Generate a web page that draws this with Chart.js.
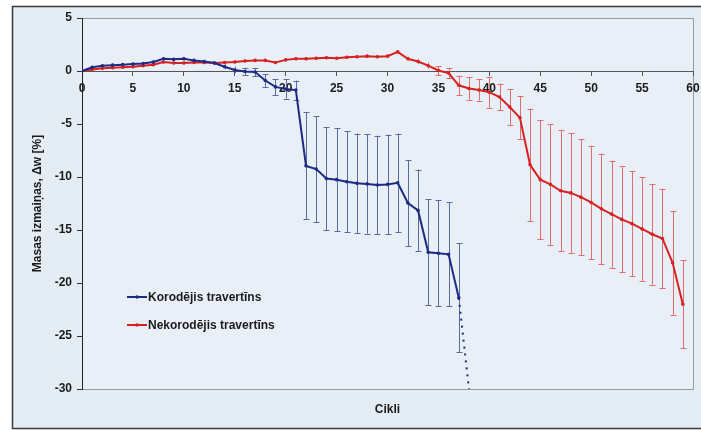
<!DOCTYPE html>
<html>
<head>
<meta charset="utf-8">
<script src="https://cdn.jsdelivr.net/npm/chart.js@4.4.0/dist/chart.umd.min.js"></script>
<style>
  html, body { margin: 0; padding: 0; background: #ffffff; }
  #wrap { width: 701px; height: 430px; position: relative; }
</style>
</head>
<body>
<div id="wrap"><canvas id="c" width="701" height="430"></canvas></div>
<script>
// Cycle numbers (x axis)
const cycles = [0,1,2,3,4,5,6,7,8,9,10,11,12,13,14,15,16,17,18,19,
                20,21,22,23,24,25,26,27,28,29,30,31,32,33,34,35,36,37,38,39,
                40,41,42,43,44,45,46,47,48,49,50,51,52,53,54,55,56,57,58,59];

// Korodējis travertīns: mean mass change [%] and its spread, cycles 0..37
const corrodedMean = [0,0.35,0.5,0.55,0.6,0.65,0.7,0.85,1.15,1.1,
                      1.15,1.0,0.9,0.75,0.4,0.1,-0.05,-0.1,-0.9,-1.5,
                      -1.7,-1.8,-8.95,-9.25,-10.15,-10.25,-10.45,-10.6,-10.65,-10.75,
                      -10.7,-10.55,-12.45,-13.15,-17.1,-17.2,-17.3,-21.4];
const corrodedErr  = [0,0.15,0.15,0.15,0.15,0.15,0.15,0.15,0.15,0.15,
                      0.15,0.15,0.15,0.15,0.25,0.3,0.35,0.4,0.6,0.75,
                      0.9,0.9,5.05,5.0,4.85,4.85,4.75,4.7,4.7,4.65,
                      4.7,4.65,4.05,3.85,5.0,5.0,4.9,5.15];
// Extrapolated tail of the corroded series (dotted)
const corrodedTailX = [37, 38];
const corrodedTailY = [-21.4, -30];

// Nekorodējis travertīns: mean mass change [%] and its spread, cycles 0..59
const intactMean = [0,0.15,0.25,0.3,0.35,0.4,0.5,0.6,0.85,0.75,
                    0.75,0.8,0.8,0.75,0.8,0.85,0.95,1.0,1.0,0.8,
                    1.05,1.15,1.15,1.2,1.25,1.2,1.3,1.35,1.4,1.35,
                    1.4,1.8,1.15,0.9,0.5,0.05,-0.2,-1.35,-1.65,-1.8,
                    -2.0,-2.45,-3.4,-4.4,-8.85,-10.25,-10.7,-11.3,-11.5,-11.9,
                    -12.4,-13.0,-13.5,-14.0,-14.4,-14.9,-15.4,-15.8,-18.1,-22.0];
const intactErr  = [0,0.15,0.15,0.15,0.15,0.15,0.15,0.15,0.15,0.15,
                    0.15,0.15,0.15,0.15,0.15,0.15,0.15,0.15,0.15,0.15,
                    0.15,0.15,0.15,0.15,0.15,0.15,0.15,0.15,0.15,0.15,
                    0.15,0.15,0.2,0.25,0.3,0.4,0.5,0.9,1.05,1.0,
                    1.45,1.25,1.7,2.05,5.3,5.6,5.7,5.7,5.65,5.5,
                    5.35,5.2,5.05,5.0,4.95,4.9,4.75,4.7,4.9,4.15];

// Axis settings
const xTicksStep = 5;
const yTicksStep = 5;
const xRange = [0, 60];
const yRange = [-30, 5];

const seriesNames = ['Korodējis travertīns', 'Nekorodējis travertīns'];
const BLUE = '#1d2b82';
const RED = '#d62222';
const BLUE_BAR = '#5b6a9c';
const RED_BAR = '#e46c6c';
const TEXT = '#1b1b1b';
const FONT = { family: "'Liberation Sans', Arial, sans-serif", size: 12, weight: 'bold' };

function pts(xs, ys) { return ys.map((y, i) => ({ x: xs[i], y: y })); }

// Page frame and plot background
const framePlugin = {
  id: 'frame',
  beforeDraw(chart) {
    const { ctx, chartArea: a } = chart;
    ctx.save();
    ctx.fillStyle = '#ffffff';
    ctx.fillRect(0, 0, chart.width, chart.height);
    ctx.fillStyle = '#e4ecf4';
    ctx.fillRect(12, 6, chart.width - 12, chart.height - 7);
    ctx.strokeStyle = '#3a3a3a';
    ctx.lineWidth = 1.5;
    ctx.beginPath();
    ctx.moveTo(chart.width, 6.5);
    ctx.lineTo(12.5, 6.5);
    ctx.lineTo(12.5, chart.height - 1.5);
    ctx.lineTo(chart.width, chart.height - 1.5);
    ctx.stroke();
    ctx.fillStyle = '#e8eff7';
    ctx.fillRect(a.left, a.top, a.right - a.left, a.bottom - a.top);
    ctx.strokeStyle = '#9a9a9a';
    ctx.lineWidth = 1;
    ctx.strokeRect(Math.round(a.left) + 0.5, Math.round(a.top) + 0.5,
                   Math.round(a.right - a.left), Math.round(a.bottom - a.top));
    ctx.restore();
  }
};

// Vertical error bars with caps, drawn under the lines
const errorBarPlugin = {
  id: 'errorBars',
  beforeDatasetsDraw(chart) {
    const { ctx, scales: { x, y } } = chart;
    const sets = [
      { mean: corrodedMean, err: corrodedErr, color: BLUE_BAR },
      { mean: intactMean, err: intactErr, color: RED_BAR }
    ];
    ctx.save();
    ctx.lineWidth = 1;
    sets.forEach(s => {
      ctx.strokeStyle = s.color;
      s.mean.forEach((m, i) => {
        const e = s.err[i];
        if (!e) return;
        const px = Math.round(x.getPixelForValue(cycles[i])) + 0.5;
        const top = y.getPixelForValue(m + e);
        const bot = y.getPixelForValue(m - e);
        ctx.beginPath();
        ctx.moveTo(px, top); ctx.lineTo(px, bot);
        if (e > 0.3) {
          ctx.moveTo(px - 3, Math.round(top) + 0.5); ctx.lineTo(px + 3, Math.round(top) + 0.5);
          ctx.moveTo(px - 3, Math.round(bot) + 0.5); ctx.lineTo(px + 3, Math.round(bot) + 0.5);
        }
        ctx.stroke();
      });
    });
    ctx.restore();
  }
};

// Legend drawn inside the plot area
const innerLegendPlugin = {
  id: 'innerLegend',
  afterDraw(chart) {
    const { ctx, chartArea: a } = chart;
    const items = [
      { text: seriesNames[0], color: BLUE, dy: 279 },
      { text: seriesNames[1], color: RED, dy: 307 }
    ];
    ctx.save();
    ctx.font = `${FONT.weight} ${FONT.size}px ${FONT.family}`;
    ctx.textBaseline = 'middle';
    items.forEach(it => {
      const x0 = a.left + 45;
      const yy = a.top + it.dy;
      ctx.strokeStyle = it.color;
      ctx.lineWidth = 2;
      ctx.beginPath();
      ctx.moveTo(x0, yy); ctx.lineTo(x0 + 20, yy);
      ctx.stroke();
      ctx.fillStyle = it.color;
      ctx.beginPath();
      ctx.arc(x0 + 10, yy, 1.8, 0, Math.PI * 2);
      ctx.fill();
      ctx.fillStyle = TEXT;
      ctx.fillText(it.text, x0 + 21, yy + 0.5);
    });
    ctx.restore();
  }
};

// X axis title below the plot
const xTitlePlugin = {
  id: 'xTitle',
  afterDraw(chart) {
    const { ctx, chartArea: a } = chart;
    ctx.save();
    ctx.font = `${FONT.weight} ${FONT.size}px ${FONT.family}`;
    ctx.fillStyle = TEXT;
    ctx.textAlign = 'center';
    ctx.textBaseline = 'middle';
    ctx.fillText('Cikli', (a.left + a.right) / 2, a.bottom + 21);
    ctx.restore();
  }
};

new Chart(document.getElementById('c').getContext('2d'), {
  type: 'line',
  data: {
    datasets: [
      {
        label: seriesNames[0],
        data: pts(cycles, corrodedMean),
        borderColor: BLUE, backgroundColor: BLUE,
        borderWidth: 2, pointRadius: 1.8, pointBorderWidth: 0,
        tension: 0, order: 1
      },
      {
        label: seriesNames[0] + ' (ekstrapolācija)',
        data: pts(corrodedTailX, corrodedTailY),
        borderColor: BLUE, backgroundColor: BLUE,
        borderWidth: 2, borderDash: [2, 5], pointRadius: 0,
        tension: 0, order: 1
      },
      {
        label: seriesNames[1],
        data: pts(cycles, intactMean),
        borderColor: RED, backgroundColor: RED,
        borderWidth: 2, pointRadius: 1.8, pointBorderWidth: 0,
        tension: 0, order: 2
      }
    ]
  },
  options: {
    responsive: false,
    animation: false,
    events: [],
    layout: { padding: { left: 0, top: 18, right: 8, bottom: 41 } },
    plugins: { legend: { display: false }, tooltip: { enabled: false } },
    scales: {
      x: {
        type: 'linear',
        min: xRange[0], max: xRange[1],
        position: { y: 0 },
        ticks: { stepSize: xTicksStep, font: FONT, color: TEXT, padding: 6, maxRotation: 0 },
        grid: { display: true, drawOnChartArea: false, drawTicks: true, tickLength: 4, color: '#555555' },
        border: { display: true, color: '#555555', width: 1 },
        afterFit(scale) { scale.height = 0; scale.paddingLeft = 0; scale.paddingRight = 0; }
      },
      y: {
        type: 'linear',
        min: yRange[0], max: yRange[1],
        ticks: { stepSize: yTicksStep, font: FONT, color: TEXT, padding: 5 },
        grid: { display: true, drawOnChartArea: false, drawTicks: true, tickLength: 5, color: '#333333' },
        border: { display: true, color: '#222222', width: 1 },
        title: { display: true, text: 'Masas izmaiņas, Δw [%]', font: FONT, color: TEXT, padding: { top: 30, bottom: 0 } },
        afterFit(scale) { scale.width = 82; }
      }
    }
  },
  plugins: [framePlugin, errorBarPlugin, innerLegendPlugin, xTitlePlugin]
});
</script>
</body>
</html>
